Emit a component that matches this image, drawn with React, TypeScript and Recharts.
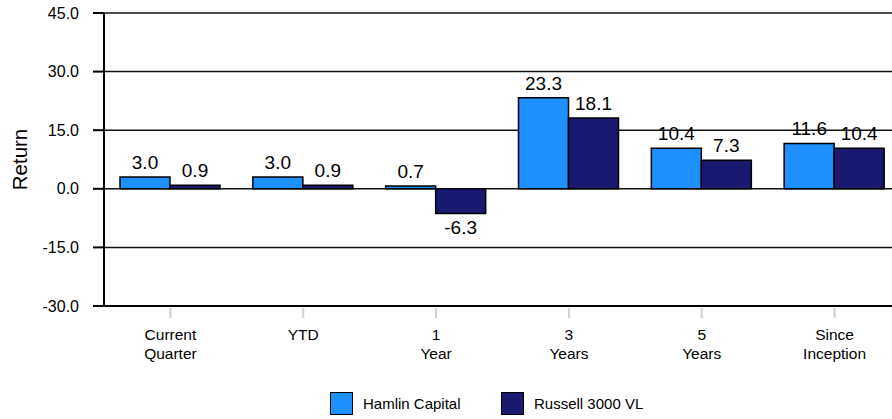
import React from "react";
import {
  BarChart,
  Bar,
  XAxis,
  YAxis,
  CartesianGrid,
  Legend,
  LabelList,
  Label,
} from "recharts";

const categories = [
  ["Current", "Quarter"],
  ["YTD"],
  ["1", "Year"],
  ["3", "Years"],
  ["5", "Years"],
  ["Since", "Inception"],
];
const hamlin = [3.0, 3.0, 0.7, 23.3, 10.4, 11.6];
const russell = [0.9, 0.9, -6.3, 18.1, 7.3, 10.4];
const yTicks = [-30, -15, 0, 15, 30, 45];

const seriesNames = ["Hamlin Capital", "Russell 3000 VL"];
const seriesColors = ["#1E90FF", "#191970"];

const FONT = "'Liberation Sans', Arial, Helvetica, sans-serif";

const data = categories.map((lines, i) => ({
  name: lines.join(" "),
  lines,
  hamlin: hamlin[i],
  russell: russell[i],
}));

function XTick(props: any) {
  const { x, y, payload, index } = props;
  const lines = categories[index] ?? String(payload.value).split(" ");
  return (
    <g>
      <line x1={x} x2={x} y1={y + 2} y2={y + 12} stroke="#d0d0d0" strokeWidth={2} />
      {lines.map((t: string, i: number) => (
        <text
          key={i}
          x={x}
          y={y + 34 + i * 19}
          textAnchor="middle"
          fontSize={15.5}
          fontFamily={FONT}
          fill="#000"
        >
          {t}
        </text>
      ))}
    </g>
  );
}

function BarValue(props: any) {
  const { x, y, width, height, value } = props;
  const top = Math.min(y, y + height);
  const bottom = Math.max(y, y + height);
  const cx = x + width / 2;
  const ty = value >= 0 ? top - 8 : bottom + 21;
  return (
    <text x={cx} y={ty} textAnchor="middle" fontSize={19} fontFamily={FONT} fill="#000">
      {Number(value).toFixed(1)}
    </text>
  );
}

function LegendBox() {
  return (
    <div style={{ position: "relative", height: 30, width: 920, fontFamily: FONT }}>
      {seriesNames.map((n, i) => (
        <div
          key={n}
          style={{
            position: "absolute",
            left: i === 0 ? 330 : 501,
            top: 3,
            display: "flex",
            alignItems: "center",
          }}
        >
          <div
            style={{
              width: 21,
              height: 21,
              background: seriesColors[i],
              border: "1.5px solid #000",
            }}
          />
          <span style={{ marginLeft: 10, fontSize: 15, color: "#000" }}>{n}</span>
        </div>
      ))}
    </div>
  );
}

export default function App() {
  return (
    <div style={{ width: 892, height: 419, overflow: "hidden", background: "#fff" }}>
      <style>{`body{margin:0}`}</style>
      <BarChart
        width={920}
        height={419}
        data={data}
        margin={{ top: 13, right: 19, left: 0, bottom: 0 }}
        barGap={0}
        barSize={50}
      >
        <CartesianGrid vertical={false} stroke="#111" strokeWidth={1.5} />
        <XAxis
          dataKey="name"
          height={83}
          tick={<XTick />}
          tickLine={false}
          tickSize={0}
          tickMargin={0}
          interval={0}
          axisLine={{ stroke: "#000", strokeWidth: 2 }}
        />
        <YAxis
          width={104}
          domain={[-30, 45]}
          ticks={yTicks}
          interval={0}
          tickFormatter={(v: number) => v.toFixed(1)}
          tickSize={11}
          tickMargin={14}
          tick={{ fontSize: 16, fontFamily: FONT, fill: "#000" }}
          tickLine={{ stroke: "#000", strokeWidth: 2 }}
          axisLine={{ stroke: "#000", strokeWidth: 2 }}
        >
          <Label
            content={({ viewBox }: any) => {
              const cy = viewBox.y + viewBox.height / 2;
              return (
                <text
                  x={27}
                  y={cy}
                  transform={`rotate(-90, 27, ${cy})`}
                  textAnchor="middle"
                  fontSize={20.5}
                  fontFamily={FONT}
                  fill="#000"
                >
                  Return
                </text>
              );
            }}
          />
        </YAxis>
        <Legend verticalAlign="bottom" height={30} wrapperStyle={{ left: 0, width: 920 }} content={() => <LegendBox />} />
        <Bar dataKey="hamlin" name={seriesNames[0]} fill={seriesColors[0]} stroke="#000" strokeWidth={1.5} isAnimationActive={false}>
          <LabelList dataKey="hamlin" content={<BarValue />} />
        </Bar>
        <Bar dataKey="russell" name={seriesNames[1]} fill={seriesColors[1]} stroke="#000" strokeWidth={1.5} isAnimationActive={false}>
          <LabelList dataKey="russell" content={<BarValue />} />
        </Bar>
      </BarChart>
    </div>
  );
}
